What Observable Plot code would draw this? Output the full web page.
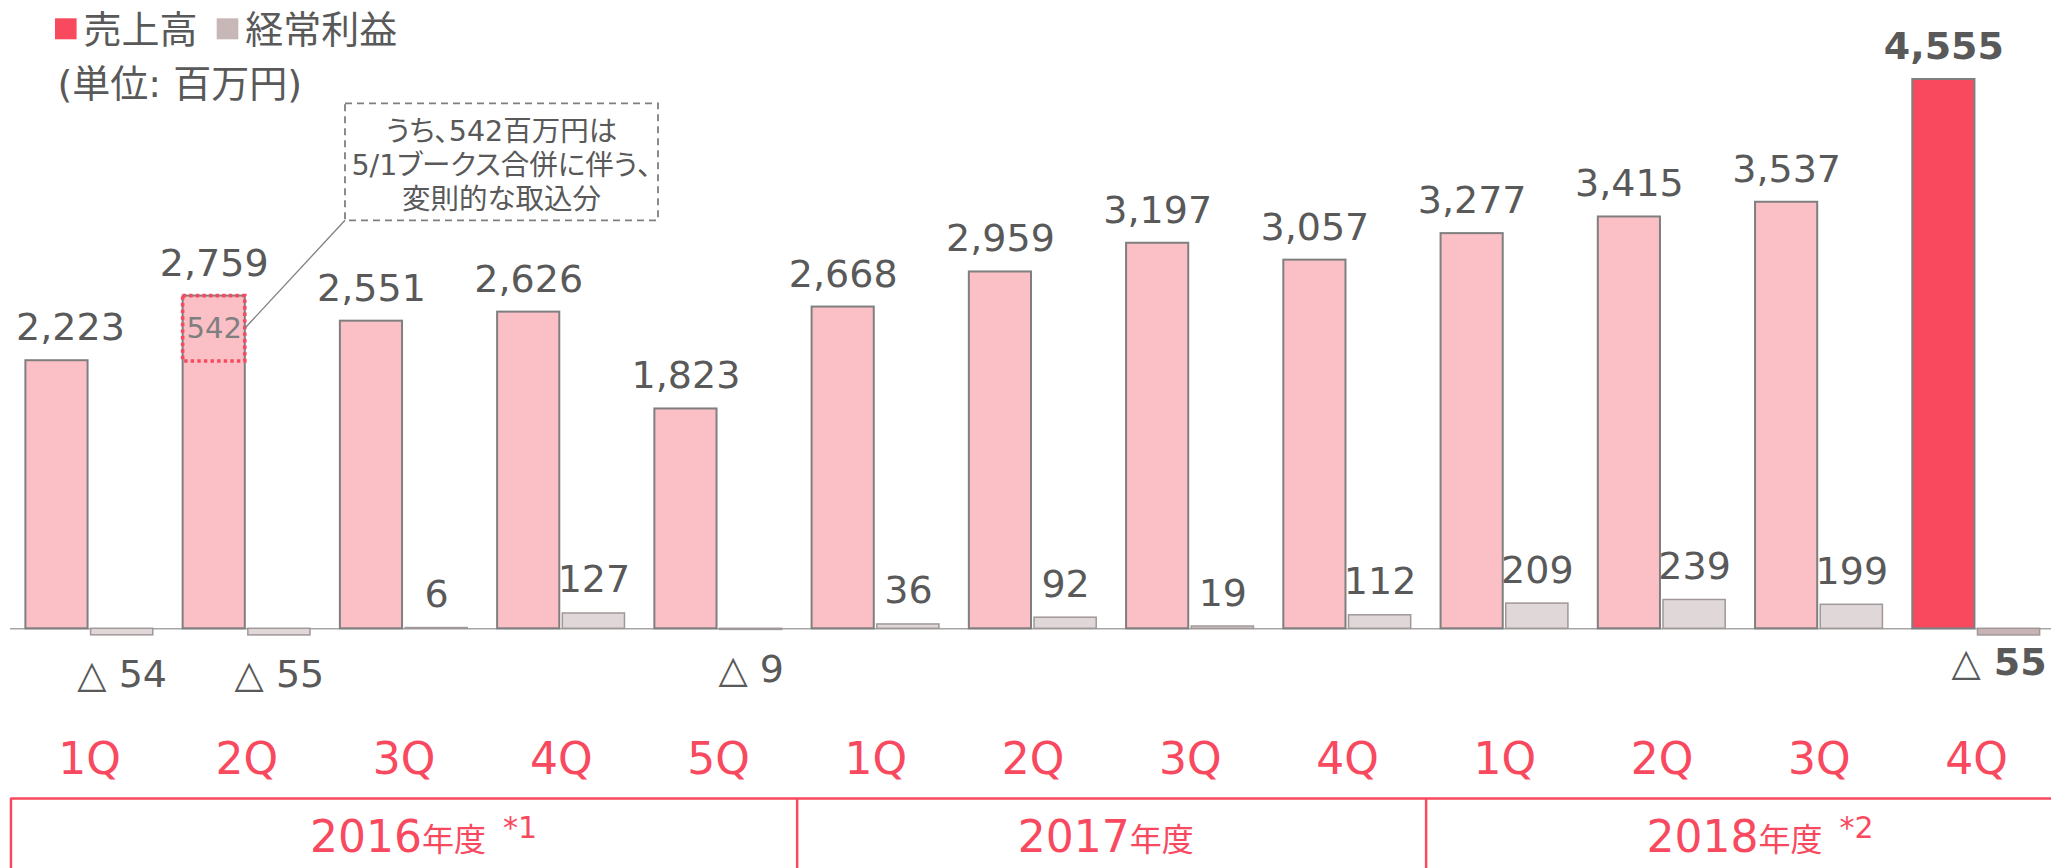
<!DOCTYPE html>
<html>
<head>
<meta charset="utf-8">
<script src="https://cdn.jsdelivr.net/npm/d3@7"></script>
<script src="https://cdn.jsdelivr.net/npm/@observablehq/plot@0.6"></script>
<style>
  html, body { margin: 0; padding: 0; background: #ffffff; }
  #wrap { position: relative; width: 2051px; height: 868px; overflow: hidden; background: #fff; }
  #wrap svg { position: absolute; left: 0; overflow: visible; max-width: none; }
</style>
</head>
<body>
<div id="wrap"></div>
<script>
// ---------------- data ----------------
const quarterLabels = ["1Q", "2Q", "3Q", "4Q", "5Q", "1Q", "2Q", "3Q", "4Q", "1Q", "2Q", "3Q", "4Q"];
const sales  = [2223, 2759, 2551, 2626, 1823, 2668, 2959, 3197, 3057, 3277, 3415, 3537, 4555];
const profit = [-54, -55, 6, 127, -9, 36, 92, 19, 112, 209, 239, 199, -55];
const yearNumbers = ["2016", "2017", "2018"];
const yearSuffix = "年度";
const yearNotes = ["*1", "", "*2"];
const quartersPerYear = [5, 4, 4];
const seriesNames = ["売上高", "経常利益"];
const unitLabel = "(単位: 百万円)";
const noteLines = ["うち、542百万円は", "5/1ブークス合併に伴う、", "変則的な取込分"];
const mergerQuarter = 1;
const mergerAmount = 542;

// ---------------- style ----------------
const FONT = '"DejaVu Sans", "Noto Sans CJK JP", sans-serif';
const pink = "#fbc0c6", red = "#f8495f";
const profitFill = "#e0d8d8", profitFillLast = "#c8b4b4";
const salesStroke = "#7f7f7f", profitStroke = "#a09898";
const labelColor = "#595959";
const W = 2051, H = 790;
const bandRange = [10.46, 2054.58];
const inset = 65.2;          // half-band offset for the two bars in each quarter
const half = 32.6;           // bar-centre offset from band centre

const rows = sales.map((s, i) => ({i, sales: s, profit: profit[i]}));
const last = rows.length - 1;
const regular = rows.filter(d => d.i !== last);
const final = rows.filter(d => d.i === last);
const fmt = d3.format(",");
const profitText = v => v < 0 ? "△ " + fmt(-v) : fmt(v);
const merger = [{i: mergerQuarter, total: sales[mergerQuarter], part: mergerAmount}];

const main = Plot.plot({
  width: W, height: H,
  marginTop: 79, marginBottom: 161.7, marginLeft: 10, marginRight: 0,
  x: {type: "band", domain: d3.range(rows.length), range: bandRange,
      paddingInner: 0.19, paddingOuter: 0.095, align: 0.5, round: false},
  y: {domain: [0, d3.max(sales)], axis: null},
  style: {fontFamily: FONT, overflow: "visible", background: "transparent"},
  marks: [
    Plot.ruleY([0], {stroke: "#a6a6a6", strokeWidth: 1.5}),
    Plot.barY(regular, {x: "i", y: "sales", fill: pink, stroke: salesStroke, strokeWidth: 2, insetRight: inset}),
    Plot.barY(final, {x: "i", y: "sales", fill: red, stroke: salesStroke, strokeWidth: 2, insetRight: inset}),
    Plot.barY(regular, {x: "i", y: "profit", fill: profitFill, stroke: profitStroke, strokeWidth: 1.5, insetLeft: inset}),
    Plot.barY(final, {x: "i", y: "profit", fill: profitFillLast, stroke: profitStroke, strokeWidth: 1.5, insetLeft: inset}),
    // merger portion (dotted box)
    Plot.barY(merger, {x: "i", y1: d => d.total - d.part, y2: "total", fill: "none", stroke: red,
      strokeWidth: 3.6, strokeDasharray: "3.4,3.2", insetRight: inset}),
    Plot.text(merger, {x: "i", y: d => d.total - d.part / 2, text: d => fmt(d.part), dx: -half,
      fill: "#7f7f7f", fontSize: 29}),
    // sales labels
    Plot.text(rows.filter(d => d.i === 0), {x: "i", y: "sales", text: d => fmt(d.sales), dx: -half + 13.5, dy: -20.5,
      lineAnchor: "bottom", fill: labelColor, fontSize: 38}),
    Plot.text(regular.filter(d => d.i !== 0), {x: "i", y: "sales", text: d => fmt(d.sales), dx: -half, dy: -20.5,
      lineAnchor: "bottom", fill: labelColor, fontSize: 38}),
    Plot.text(final, {x: "i", y: "sales", text: d => fmt(d.sales), dx: -half, dy: -20.5,
      lineAnchor: "bottom", fill: labelColor, fontSize: 38, fontWeight: "bold"}),
    // profit labels
    Plot.text(regular.filter(d => d.profit >= 0), {x: "i", y: "profit", text: d => profitText(d.profit), dx: half, dy: -21,
      lineAnchor: "bottom", fill: labelColor, fontSize: 38}),
    Plot.text(regular.filter(d => d.profit < 0), {x: "i", y: "profit", text: d => profitText(d.profit), dx: half, dy: 52,
      lineAnchor: "bottom", fill: labelColor, fontSize: 38}),
    Plot.text(final, {x: "i", y: "profit", text: d => profitText(d.profit), dx: half - 10, dy: 39.5,
      lineAnchor: "bottom", fill: labelColor, fontSize: 38, fontWeight: "bold"}),
    // quarter axis
    Plot.axisX({tickSize: 0, tickPadding: 113.5, tickFormat: i => quarterLabels[i], fontSize: 44,
      color: red, label: null})
  ]
});
main.style.top = "0px";

// ---- callout annotation ----
{
  const svg = d3.select(main);
  const g = svg.append("g").attr("font-family", FONT);
  g.append("rect").attr("x", 345).attr("y", 103.3).attr("width", 313).attr("height", 117)
    .attr("fill", "none").attr("stroke", "#7f7f7f").attr("stroke-width", 1.8).attr("stroke-dasharray", "7,5");
  noteLines.forEach((t, k) => {
    g.append("text").attr("x", 501.5).attr("y", 141 + 34 * k).attr("text-anchor", "middle")
      .attr("font-size", 28.5).attr("fill", labelColor)
      .style("font-feature-settings", "'palt'").text(t);
  });
  const xs = main.scale("x"), ys = main.scale("y");
  const lx = xs.apply(mergerQuarter) + xs.bandwidth - inset;
  const ly = ys.apply(sales[mergerQuarter] - mergerAmount / 2);
  g.append("line").attr("x1", lx).attr("y1", ly).attr("x2", 345).attr("y2", 220.3)
    .attr("stroke", "#7f7f7f").attr("stroke-width", 1.3);
}

// ---------------- fiscal-year row ----------------
let acc = 0;
const yearRows = yearNumbers.map((y, k) => {
  const start = acc; acc += quartersPerYear[k];
  return {year: y, note: yearNotes[k], start, end: acc, mid: (start + acc) / 2};
});
const boundaries = [0, ...yearRows.map(d => d.end)];

const yearPlot = Plot.plot({
  width: W, height: 78,
  marginTop: 8, marginBottom: 0, marginLeft: 10, marginRight: 0,
  x: {domain: [0, rows.length], range: bandRange, axis: null},
  y: {domain: [0, 1], axis: null},
  style: {fontFamily: FONT, overflow: "visible", background: "transparent"},
  marks: [
    Plot.ruleY([1], {x1: 0, x2: rows.length, stroke: red, strokeWidth: 2.5}),
    Plot.ruleX(boundaries, {stroke: red, strokeWidth: 2.5}),
    Plot.text(yearRows, {x: "mid", text: "year", frameAnchor: "top", textAnchor: "end", dx: 18, dy: 53.7,
      lineAnchor: "bottom", fill: red, fontSize: 44}),
    Plot.text(yearRows, {x: "mid", text: () => yearSuffix, frameAnchor: "top", textAnchor: "start", dx: 18, dy: 52.8,
      lineAnchor: "bottom", fill: red, fontSize: 32}),
    Plot.text(yearRows.filter(d => d.note), {x: "mid", text: "note", frameAnchor: "top", textAnchor: "start", dx: 99, dy: 39,
      lineAnchor: "bottom", fill: red, fontSize: 30})
  ]
});
yearPlot.style.top = "790px";

// ---------------- legend ----------------
const legend = d3.create("svg").attr("width", 460).attr("height", 110)
  .style("top", "0px").attr("font-family", FONT);
const legendColors = [red, "#c8b7b7"];
const legendX = [55, 216.7];
seriesNames.forEach((name, k) => {
  legend.append("rect").attr("x", legendX[k]).attr("y", 18.3).attr("width", 21.6).attr("height", 21)
    .attr("fill", legendColors[k]);
  legend.append("text").attr("x", legendX[k] + 28.5).attr("y", 42.5).attr("font-size", 38)
    .attr("fill", labelColor).text(name);
});
legend.append("text").attr("x", 57.5).attr("y", 96.5).attr("font-size", 38).attr("fill", labelColor).text(unitLabel);

const wrap = document.getElementById("wrap");
wrap.appendChild(main);
wrap.appendChild(yearPlot);
wrap.appendChild(legend.node());
</script>
</body>
</html>
